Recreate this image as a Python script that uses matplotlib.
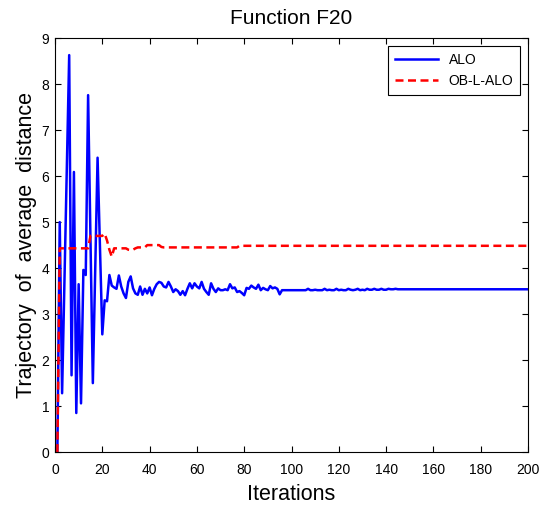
import numpy as np
import matplotlib
matplotlib.use("Agg")
import matplotlib.pyplot as plt

plt.rcParams['font.family'] = ['Liberation Sans', 'DejaVu Sans']

alo_head = [0, 5.0, 1.28, 3.73, 6.18, 8.63, 1.67, 6.09, 0.85, 3.65,
            1.06, 3.96, 3.85, 7.76, 4.6, 1.5, 4.0, 6.4, 4.5, 2.56,
            3.3, 3.28, 3.85, 3.62, 3.58, 3.55, 3.84, 3.6, 3.45, 3.35,
            3.7, 3.82, 3.56, 3.45, 3.42, 3.6, 3.42, 3.55, 3.45, 3.58,
            3.41, 3.55, 3.65, 3.7, 3.68, 3.6, 3.58, 3.7, 3.6, 3.48,
            3.54, 3.5, 3.42, 3.5, 3.41, 3.55, 3.67, 3.56, 3.67, 3.6,
            3.56, 3.7, 3.55, 3.48, 3.42, 3.67, 3.55, 3.48, 3.56, 3.52,
            3.52, 3.54, 3.52, 3.65, 3.56, 3.58, 3.48, 3.5, 3.46, 3.41,
            3.57, 3.55, 3.62, 3.58, 3.55, 3.64, 3.52, 3.57, 3.54, 3.52,
            3.61, 3.56, 3.58, 3.55, 3.43, 3.52]
# small blips between 97 and 147, then flat
alo_mid = [3.52, 3.52, 3.52, 3.52, 3.52, 3.52, 3.52, 3.52, 3.52, 3.52,
           3.55, 3.52, 3.52, 3.53, 3.52, 3.52, 3.52, 3.55, 3.52, 3.53,
           3.52, 3.52, 3.55, 3.52, 3.53, 3.52, 3.52, 3.55, 3.53, 3.52,
           3.53, 3.55, 3.52, 3.53, 3.52, 3.55, 3.53, 3.53, 3.55, 3.53,
           3.53, 3.55, 3.53, 3.53, 3.55, 3.54, 3.54, 3.55, 3.54, 3.54,
           3.54]
alo_tail = [3.54] * (200 - len(alo_head) - len(alo_mid))
alo = alo_head + alo_mid + alo_tail

# OB-L-ALO
obl_head = [0] + [4.43] * 13 + [4.7] * 6 + [4.75, 4.6, 4.4, 4.25] \
    + [4.43] * 6 + [4.4, 4.39, 4.4, 4.43] + [4.45] * 4 + [4.5] * 6 + [4.46]
obl_mid = [4.45] * (77 - len(obl_head))
obl_tail = [4.485] * (200 - 77)
obl = obl_head + obl_mid + obl_tail

iters = np.arange(1, 201)

fig = plt.figure(figsize=(5.5, 5.08), dpi=100)
ax = fig.add_axes([0.1, 0.110, 0.86, 0.815])

ax.plot(iters, alo, color='#0000ff', lw=1.8, label='ALO')
ax.plot(iters, obl, color='#ff0000', lw=1.8, ls=(0, (3.2, 1.8)), label='OB-L-ALO')

ax.set_xlim(0, 200)
ax.set_ylim(0, 9)
ax.set_xticks(np.arange(0, 201, 20))
ax.set_yticks(np.arange(0, 10, 1))
ax.tick_params(direction='in', top=True, right=True, labelsize=10, length=4)
ax.tick_params(axis='x', pad=8)
ax.tick_params(axis='y', pad=4)
for s in ax.spines.values():
    s.set_linewidth(0.8)

ax.set_title('Function F20', fontsize=15, pad=10)
ax.set_xlabel('Iterations', fontsize=15.5, labelpad=5)
ax.set_ylabel('Trajectory  of  average  distance', fontsize=15.5, labelpad=3)

leg = ax.legend(loc='upper right', fontsize=10, fancybox=False, framealpha=1,
                edgecolor='black', handlelength=3.1, borderaxespad=0.55,
                borderpad=0.5, labelspacing=0.5)
leg.get_frame().set_linewidth(0.8)

fig.savefig('out.png', dpi=100)
